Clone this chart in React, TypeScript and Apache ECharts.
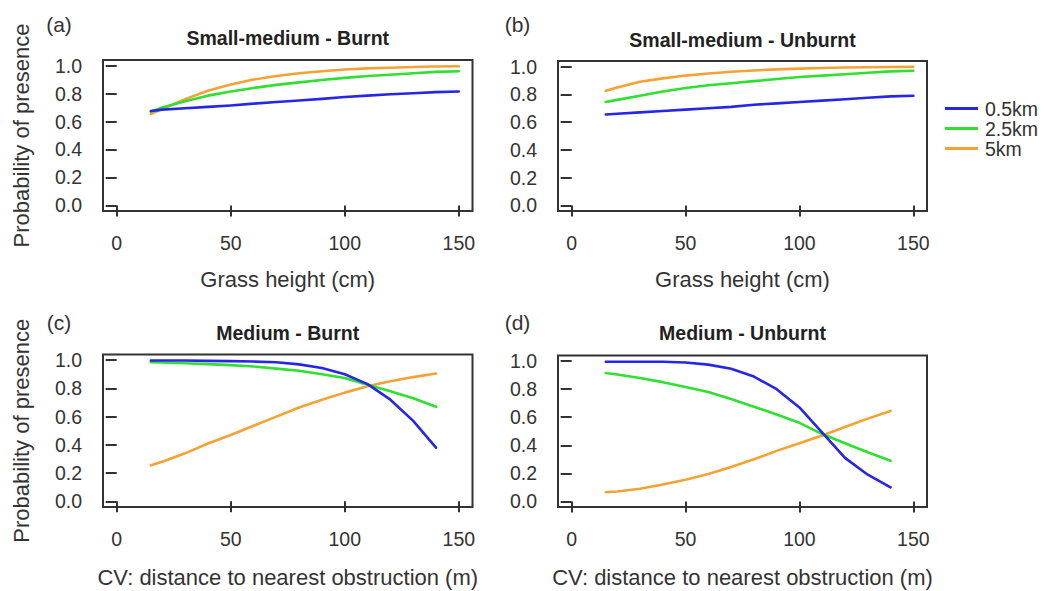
import React, { useEffect, useRef } from "react";
import * as echarts from "echarts";

// ---- data ----
const grassX = [15, 20, 30, 40, 50, 60, 70, 80, 90, 100, 110, 120, 130, 140, 150];
const cvX = [15, 20, 30, 40, 50, 60, 70, 80, 90, 100, 110, 120, 130, 140];

const seriesNames = ["0.5km", "2.5km", "5km"];
const seriesColors = ["#2626e4", "#30df30", "#f5a235"];

// (a) Small-medium - Burnt
const aBlue = [0.675, 0.685, 0.695, 0.705, 0.715, 0.728, 0.74, 0.75, 0.762, 0.775, 0.785, 0.795, 0.802, 0.81, 0.815];
const aGreen = [0.67, 0.7, 0.745, 0.785, 0.815, 0.84, 0.862, 0.88, 0.897, 0.912, 0.925, 0.935, 0.945, 0.955, 0.96];
const aOrange = [0.655, 0.69, 0.76, 0.82, 0.865, 0.9, 0.925, 0.945, 0.96, 0.972, 0.98, 0.985, 0.99, 0.993, 0.995];

// (b) Small-medium - Unburnt
const bBlue = [0.655, 0.66, 0.67, 0.68, 0.69, 0.7, 0.71, 0.725, 0.735, 0.745, 0.755, 0.765, 0.775, 0.785, 0.79];
const bGreen = [0.745, 0.76, 0.79, 0.82, 0.845, 0.865, 0.88, 0.895, 0.91, 0.925, 0.935, 0.945, 0.955, 0.965, 0.97];
const bOrange = [0.825, 0.85, 0.89, 0.915, 0.935, 0.95, 0.963, 0.972, 0.98, 0.985, 0.99, 0.993, 0.995, 0.997, 0.998];

// (c) Medium - Burnt
const cBlue = [0.998, 0.998, 0.997, 0.995, 0.993, 0.99, 0.985, 0.97, 0.945, 0.9, 0.83, 0.72, 0.57, 0.38];
const cGreen = [0.985, 0.983, 0.978, 0.972, 0.965, 0.955, 0.94, 0.925, 0.9, 0.873, 0.825, 0.78, 0.73, 0.67];
const cOrange = [0.255, 0.28, 0.34, 0.41, 0.47, 0.535, 0.6, 0.665, 0.72, 0.77, 0.815, 0.85, 0.88, 0.905];

// (d) Medium - Unburnt
const dBlue = [0.995, 0.995, 0.995, 0.995, 0.99, 0.975, 0.945, 0.89, 0.8, 0.67, 0.49, 0.31, 0.19, 0.1];
const dGreen = [0.915, 0.905, 0.88, 0.85, 0.815, 0.78, 0.73, 0.675, 0.62, 0.56, 0.48, 0.415, 0.35, 0.29];
const dOrange = [0.065, 0.07, 0.09, 0.12, 0.155, 0.195, 0.245, 0.3, 0.36, 0.415, 0.47, 0.53, 0.59, 0.645];

const xTicks = [0, 50, 100, 150];
const yTicks = [0, 0.2, 0.4, 0.6, 0.8, 1.0];

const panelLabels = ["(a)", "(b)", "(c)", "(d)"];
const panelTitles = [
  "Small-medium - Burnt",
  "Small-medium - Unburnt",
  "Medium - Burnt",
  "Medium - Unburnt",
];
const xTitles = [
  "Grass height (cm)",
  "Grass height (cm)",
  "CV: distance to nearest obstruction (m)",
  "CV: distance to nearest obstruction (m)",
];
const yTitle = "Probability of presence";

const FONT = "'Liberation Sans', Arial, Helvetica, sans-serif";
const TXT = "#333";

export default function App() {
  const ref = useRef<HTMLDivElement>(null);

  useEffect(() => {
    if (!ref.current) return;
    const chart = echarts.init(ref.current, null, { renderer: "svg" });

    const grids = [
      { left: 103, top: 60, width: 369.5, height: 151 },
      { left: 558, top: 61, width: 369, height: 150 },
      { left: 103, top: 354.5, width: 369.5, height: 152.5 },
      { left: 558, top: 355.5, width: 369, height: 151.5 },
    ];

    const panelData = [
      { x: grassX, ys: [aBlue, aGreen, aOrange] },
      { x: grassX, ys: [bBlue, bGreen, bOrange] },
      { x: cvX, ys: [cBlue, cGreen, cOrange] },
      { x: cvX, ys: [dBlue, dGreen, dOrange] },
    ];

    const xAxes = grids.map((_, i) => ({
      type: "value",
      gridIndex: i,
      min: -6,
      max: 156,
      splitLine: { show: false },
      axisLine: { show: false },
      axisTick: {
        show: true,
        customValues: xTicks,
        length: 11,
        lineStyle: { color: "#333", width: 2 },
      },
      axisLabel: {
        customValues: xTicks,
        margin: 22,
        fontSize: 19.5,
        fontFamily: FONT,
        color: TXT,
      },
      name: xTitles[i],
      nameLocation: "middle",
      nameGap: i < 2 ? 57 : 59,
      nameTextStyle: { fontSize: 22, fontFamily: FONT, color: TXT },
    }));

    const yAxes = grids.map((_, i) => ({
      type: "value",
      gridIndex: i,
      min: -0.04,
      max: 1.04,
      splitLine: { show: false },
      axisLine: { show: false },
      axisTick: {
        show: true,
        customValues: yTicks,
        length: 11,
        lineStyle: { color: "#333", width: 2 },
      },
      axisLabel: {
        customValues: yTicks,
        margin: 21,
        fontSize: 19.5,
        fontFamily: FONT,
        color: TXT,
        formatter: (v: number) => v.toFixed(1),
      },
      name: i % 2 === 0 ? yTitle : "",
      nameLocation: "middle",
      nameGap: 71,
      nameTextStyle: { fontSize: 22, fontFamily: FONT, color: TXT },
    }));

    const series: any[] = [];
    panelData.forEach((p, gi) => {
      p.ys.forEach((ys, si) => {
        series.push({
          type: "line",
          name: seriesNames[si],
          xAxisIndex: gi,
          yAxisIndex: gi,
          data: p.x.map((x, k) => [x, ys[k]]),
          showSymbol: false,
          smooth: false,
          lineStyle: { color: seriesColors[si], width: 2.6, join: "round", cap: "round" },
          itemStyle: { color: seriesColors[si] },
          z: 3 - si,
        });
      });
    });

    const labelPos = [
      [59, 24.5],
      [517.5, 24],
      [59, 322],
      [517.5, 322.5],
    ];
    const titleY = [38, 40, 332.7, 333.3];

    const graphics: any[] = [];
    grids.forEach((g, i) => {
      graphics.push({
        type: "text",
        x: labelPos[i][0],
        y: labelPos[i][1],
        style: {
          text: panelLabels[i],
          fontSize: 21,
          fontFamily: FONT,
          fill: TXT,
          textAlign: "center",
          textVerticalAlign: "middle",
        },
      });
      graphics.push({
        type: "text",
        x: g.left + g.width / 2,
        y: titleY[i],
        style: {
          text: panelTitles[i],
          fontSize: 19.5,
          fontWeight: "bold",
          fontFamily: FONT,
          fill: "#222",
          textAlign: "center",
          textVerticalAlign: "middle",
        },
      });
    });

    chart.setOption({
      animation: false,
      backgroundColor: "#fff",
      grid: grids.map((g) => ({
        ...g,
        show: true,
        borderColor: "#333",
        borderWidth: 2,
        backgroundColor: "transparent",
      })),
      xAxis: xAxes,
      yAxis: yAxes,
      legend: {
        data: seriesNames,
        orient: "vertical",
        left: 945,
        top: 98.5,
        padding: 0,
        itemGap: 0,
        itemWidth: 33,
        itemHeight: 3,
        icon: "rect",
        selectedMode: false,
        textStyle: {
          fontSize: 19.5,
          lineHeight: 19,
          fontFamily: FONT,
          color: TXT,
          padding: [0, 0, 0, 2],
        },
      },
      series,
      graphic: graphics,
    });

    return () => chart.dispose();
  }, []);

  return (
    <div
      ref={ref}
      style={{ position: "fixed", left: 0, top: 0, width: 1045, height: 591, background: "#fff" }}
    />
  );
}
